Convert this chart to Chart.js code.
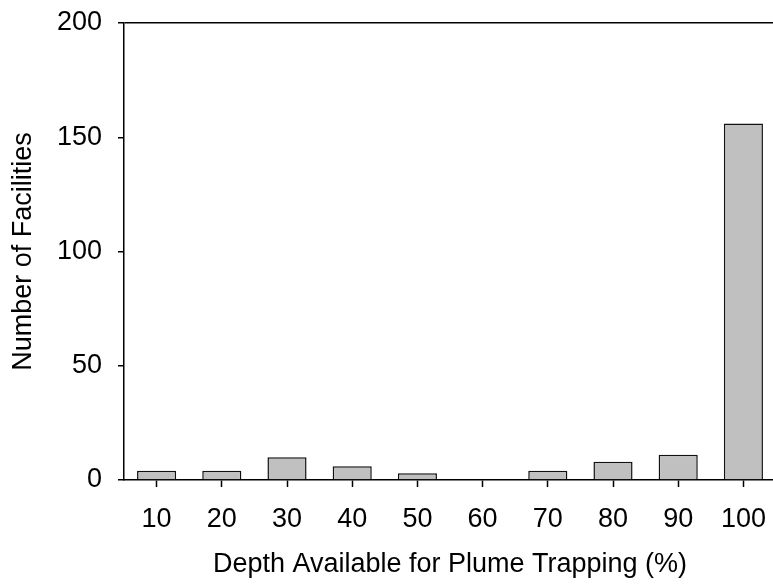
<!DOCTYPE html>
<html>
<head>
<meta charset="utf-8">
<script src="https://cdn.jsdelivr.net/npm/chart.js@4/dist/chart.umd.min.js"></script>
<style>
  html, body { margin: 0; padding: 0; background: #fff; overflow: hidden; }
  #wrap { width: 773px; height: 586px; overflow: hidden; }
  canvas { display: block; }
</style>
</head>
<body>
<div id="wrap"><canvas id="depthChart" width="776" height="586"></canvas></div>
<script>
// Số cơ sở theo phần trăm độ sâu khả dụng
const depthLabels = ['10', '20', '30', '40', '50', '60', '70', '80', '90', '100'];
const facilityCounts = [4, 4, 10, 6, 3, 0, 4, 8, 11, 156];
const yTicks = [0, 50, 100, 150, 200];

const FONT = "'Liberation Sans', Arial, sans-serif";
const ctx = document.getElementById('depthChart').getContext('2d');

// bỏ phần đệm tự động để khung vẽ nằm đúng chỗ
function noAutoPadding(scale) {
    scale.paddingTop = 0;
    scale.paddingBottom = 0;
    scale.paddingLeft = 0;
    scale.paddingRight = 0;
}

new Chart(ctx, {
    type: 'bar',
    data: {
        labels: depthLabels,
        datasets: [{
            data: facilityCounts,
            backgroundColor: '#c0c0c0',
            borderColor: '#111',
            borderWidth: 1.5,
            borderSkipped: 'bottom',
            categoryPercentage: 1,
            barPercentage: 0.6
        }]
    },
    options: {
        responsive: false,
        animation: false,
        events: [],
        layout: { padding: { top: 23, left: 0, right: 0, bottom: 0 } },
        plugins: {
            legend: { display: false },
            tooltip: { enabled: false }
        },
        scales: {
            x: {
                grid: {
                    offset: false,
                    drawOnChartArea: false,
                    tickLength: 7,
                    tickColor: '#000',
                    tickWidth: 1.5
                },
                border: { color: '#000', width: 1.5 },
                ticks: {
                    color: '#000',
                    padding: 16,
                    maxRotation: 0,
                    font: { family: FONT, size: 27 }
                },
                title: {
                    display: true,
                    text: 'Depth Available for Plume Trapping (%)',
                    color: '#000',
                    padding: { top: 0, bottom: 5 },
                    font: { family: FONT, size: 27 }
                },
                afterFit: scale => { scale.height = 106; noAutoPadding(scale); }
            },
            y: {
                min: 0,
                max: 200,
                afterBuildTicks: scale => { scale.ticks = yTicks.map(v => ({ value: v })); },
                grid: {
                    // chỉ giữ đường kẻ ở mức 200 làm khung trên
                    color: c => (c.tick && c.tick.value === 200) ? '#000' : 'rgba(0,0,0,0)',
                    lineWidth: 1.5,
                    tickLength: 6,
                    tickColor: '#000',
                    tickWidth: 1.5
                },
                border: { color: '#000', width: 1.5 },
                ticks: {
                    color: '#000',
                    padding: 16,
                    font: { family: FONT, size: 27 }
                },
                title: {
                    display: true,
                    text: 'Number of Facilities',
                    color: '#000',
                    padding: { top: 7, bottom: 0 },
                    font: { family: FONT, size: 27 }
                },
                afterFit: scale => { scale.width = 124; noAutoPadding(scale); }
            }
        }
    }
});
</script>
</body>
</html>
